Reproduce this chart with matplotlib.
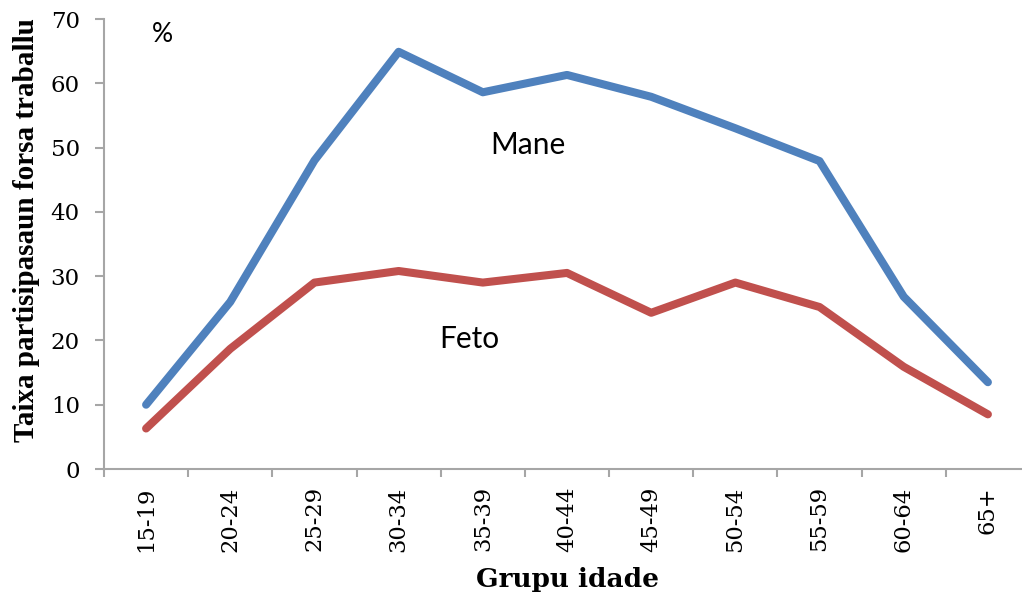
import matplotlib
matplotlib.use("Agg")
import matplotlib.pyplot as plt

categories = ["15-19", "20-24", "25-29", "30-34", "35-39", "40-44",
              "45-49", "50-54", "55-59", "60-64", "65+"]
mane = [10.0, 26.0, 48.0, 64.9, 58.6, 61.3, 57.9, 53.0, 47.9, 26.8, 13.5]
feto = [6.3, 18.7, 29.0, 30.8, 29.0, 30.5, 24.3, 29.0, 25.2, 15.9, 8.5]
yticks = [0, 10, 20, 30, 40, 50, 60, 70]

W, H = 1022, 602
fig = plt.figure(figsize=(W / 100, H / 100), dpi=100)
ax = fig.add_axes([104 / W, (H - 469) / H, 926 / W, 450 / H])

x = list(range(len(categories)))
ax.plot(x, mane, color="#4F81BD", lw=5.8, solid_capstyle="round", solid_joinstyle="round", zorder=3)
ax.plot(x, feto, color="#C0504D", lw=5.8, solid_capstyle="round", solid_joinstyle="round", zorder=3)

ax.set_xlim(-0.5, len(categories) - 0.5)
ax.set_ylim(0, 70)
ax.set_yticks(yticks)
ax.set_yticklabels([str(v) for v in yticks], fontsize=16.5, family="DejaVu Serif")
ax.set_xticks([i - 0.5 for i in range(len(categories) + 1)])
ax.set_xticklabels([])
ax.set_xticks(x, minor=True)
ax.set_xticklabels(categories, minor=True, rotation=90, fontsize=16.3, family="DejaVu Serif")
ax.tick_params(axis="x", which="minor", length=0, pad=12.5)
ax.tick_params(axis="x", which="major", length=6, width=1.5, color="#A6A6A6", direction="out")
ax.tick_params(axis="y", length=6.5, width=1.5, color="#A6A6A6", direction="out", pad=11)

for s in ["top", "right"]:
    ax.spines[s].set_visible(False)
for s in ["left", "bottom"]:
    ax.spines[s].set_color("#A6A6A6")
    ax.spines[s].set_linewidth(1.5)

fig.text(27 / W, (H - 230) / H, "Taixa partisipasaun forsa traballu", rotation=90,
         ha="center", va="center", fontsize=21, fontweight="bold", family="Liberation Serif")
fig.text(567 / W, (H - 580) / H, "Grupu idade", ha="center", va="center",
         fontsize=19, fontweight="bold", family="DejaVu Serif")

ax.text(0.2, 66.4, "%", ha="center", va="baseline", fontsize=19, family="Lato")
ax.text(4.54, 49.0, "Mane", ha="center", va="baseline", fontsize=21.5, family="Lato")
ax.text(3.84, 18.8, "Feto", ha="center", va="baseline", fontsize=21.5, family="Lato")

fig.savefig("out.png", dpi=100)
